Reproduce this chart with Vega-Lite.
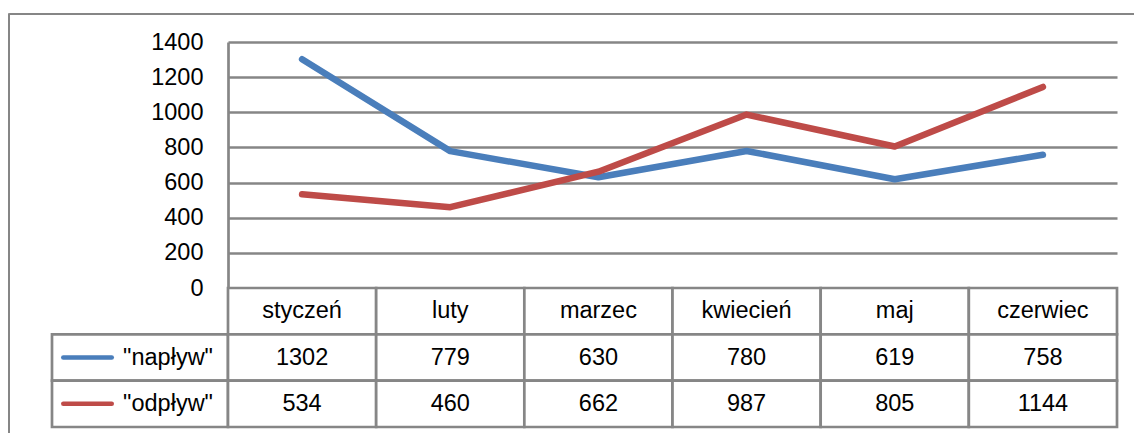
{
  "$schema": "https://vega.github.io/schema/vega-lite/v6.json",
  "padding": {"left": 5, "top": 10, "right": 0, "bottom": 0},
  "background": "white",
  "config": {"view": {"stroke": null}, "font": "Liberation Sans"},
  "datasets": {
    "d": [
      {"month": "styczeń", "series": "\"napływ\"", "value": 1302},
      {"month": "luty", "series": "\"napływ\"", "value": 779},
      {"month": "marzec", "series": "\"napływ\"", "value": 630},
      {"month": "kwiecień", "series": "\"napływ\"", "value": 780},
      {"month": "maj", "series": "\"napływ\"", "value": 619},
      {"month": "czerwiec", "series": "\"napływ\"", "value": 758},
      {"month": "styczeń", "series": "\"odpływ\"", "value": 534},
      {"month": "luty", "series": "\"odpływ\"", "value": 460},
      {"month": "marzec", "series": "\"odpływ\"", "value": 662},
      {"month": "kwiecień", "series": "\"odpływ\"", "value": 987},
      {"month": "maj", "series": "\"odpływ\"", "value": 805},
      {"month": "czerwiec", "series": "\"odpływ\"", "value": 1144}
    ],
    "months": [
      {"month": "styczeń"}, {"month": "luty"}, {"month": "marzec"},
      {"month": "kwiecień"}, {"month": "maj"}, {"month": "czerwiec"}
    ],
    "series": [{"series": "\"napływ\""}, {"series": "\"odpływ\""}]
  },
  "spacing": 0,
  "bounds": "flush",
  "hconcat": [
    {
      "width": 1, "height": 423,
      "view": {"stroke": "#868686", "strokeWidth": 1},
      "data": {"name": "series"},
      "mark": {"type": "point", "opacity": 0},
      "encoding": {}
    },
    {
      "spacing": 28,
      "bounds": "flush",
      "vconcat": [
        {
          "width": 1127, "height": 1,
          "view": {"stroke": "#868686", "strokeWidth": 1},
          "data": {"name": "series"},
          "mark": {"type": "point", "opacity": 0},
          "encoding": {}
        },
        {
          "columns": 3,
          "align": "each",
          "spacing": 0,
          "bounds": "flush",
          "concat": [
            {
              "width": 43, "height": 246,
              "data": {"name": "series"},
              "mark": {"type": "point", "opacity": 0},
              "encoding": {}
            },
            {
              "width": 176, "height": 246,
              "data": {"name": "series"},
              "mark": {"type": "point", "opacity": 0},
              "encoding": {}
            },
            {
              "width": 889, "height": 246,
              "data": {"name": "d"},
              "mark": {"type": "line", "strokeWidth": 6.5, "strokeCap": "round", "strokeJoin": "round"},
              "encoding": {
                "x": {"field": "month", "type": "nominal", "sort": ["styczeń", "luty", "marzec", "kwiecień", "maj", "czerwiec"], "scale": {"type": "point", "padding": 0.5}, "axis": null},
                "y": {"field": "value", "type": "quantitative", "scale": {"domain": [0, 1400], "nice": false},
                  "axis": {"values": [0, 200, 400, 600, 800, 1000, 1200, 1400], "format": "d", "grid": true, "gridColor": "#868686", "gridWidth": 2.7, "domain": true, "domainColor": "#868686", "domainWidth": 2.7, "ticks": false, "labelPadding": 25, "labelFontSize": 23.5, "labelFont": "Liberation Sans", "labelColor": "#000000", "title": null}},
                "color": {"field": "series", "type": "nominal", "scale": {"domain": ["\"napływ\"", "\"odpływ\""], "range": ["#4A7EBB", "#BE4B48"]}, "legend": null}
              }
            },
            {
              "width": 43, "height": 139,
              "data": {"name": "series"},
              "mark": {"type": "point", "opacity": 0},
              "encoding": {}
            },
            {
              "width": 176, "height": 139,
              "layer": [
                {
                  "data": {"name": "series"},
                  "mark": {"type": "rect", "fill": "white", "stroke": "#868686", "strokeWidth": 2.7},
                  "encoding": {
                    "y": {"field": "series", "type": "nominal", "scale": {"domain": ["h", "\"napływ\"", "\"odpływ\""], "paddingInner": 0, "paddingOuter": 0}, "axis": null}
                  }
                },
                {
                  "data": {"name": "series"},
                  "mark": {"type": "point", "shape": "stroke", "size": 2350, "strokeWidth": 4.5, "strokeCap": "round", "opacity": 1},
                  "encoding": {
                    "x": {"datum": "sym", "type": "nominal", "scale": {"type": "point", "domain": ["sym", "lab"], "padding": 0.593, "align": 0.372}, "axis": null},
                    "y": {"field": "series", "type": "nominal", "axis": null},
                    "color": {"field": "series", "type": "nominal", "scale": {"domain": ["\"napływ\"", "\"odpływ\""], "range": ["#4A7EBB", "#BE4B48"]}, "legend": null}
                  }
                },
                {
                  "data": {"name": "series"},
                  "mark": {"type": "text", "fontSize": 23.5, "font": "Liberation Sans", "color": "#000000"},
                  "encoding": {
                    "x": {"datum": "lab", "type": "nominal", "axis": null},
                    "y": {"field": "series", "type": "nominal", "axis": null},
                    "text": {"field": "series", "type": "nominal"}
                  }
                }
              ]
            },
            {
              "width": 889, "height": 139,
              "layer": [
                {
                  "data": {"name": "months"},
                  "mark": {"type": "rect", "fill": "white", "stroke": "#868686", "strokeWidth": 2.7},
                  "encoding": {
                    "x": {"field": "month", "type": "nominal", "sort": ["styczeń", "luty", "marzec", "kwiecień", "maj", "czerwiec"], "scale": {"paddingInner": 0, "paddingOuter": 0}, "axis": null},
                    "y": {"datum": "h", "type": "nominal", "scale": {"domain": ["h", "\"napływ\"", "\"odpływ\""], "paddingInner": 0, "paddingOuter": 0}, "axis": null}
                  }
                },
                {
                  "data": {"name": "d"},
                  "mark": {"type": "rect", "fill": "white", "stroke": "#868686", "strokeWidth": 2.7},
                  "encoding": {
                    "x": {"field": "month", "type": "nominal", "sort": ["styczeń", "luty", "marzec", "kwiecień", "maj", "czerwiec"], "axis": null},
                    "y": {"field": "series", "type": "nominal", "axis": null}
                  }
                },
                {
                  "data": {"name": "months"},
                  "mark": {"type": "text", "fontSize": 23.5, "font": "Liberation Sans", "color": "#000000"},
                  "encoding": {
                    "x": {"field": "month", "type": "nominal", "sort": ["styczeń", "luty", "marzec", "kwiecień", "maj", "czerwiec"], "axis": null},
                    "y": {"datum": "h", "type": "nominal", "axis": null},
                    "text": {"field": "month", "type": "nominal"}
                  }
                },
                {
                  "data": {"name": "d"},
                  "mark": {"type": "text", "fontSize": 23.5, "font": "Liberation Sans", "color": "#000000"},
                  "encoding": {
                    "x": {"field": "month", "type": "nominal", "sort": ["styczeń", "luty", "marzec", "kwiecień", "maj", "czerwiec"], "axis": null},
                    "y": {"field": "series", "type": "nominal", "axis": null},
                    "text": {"field": "value", "type": "quantitative", "format": "d"}
                  }
                }
              ]
            }
          ]
        }
      ]
    }
  ]
}
